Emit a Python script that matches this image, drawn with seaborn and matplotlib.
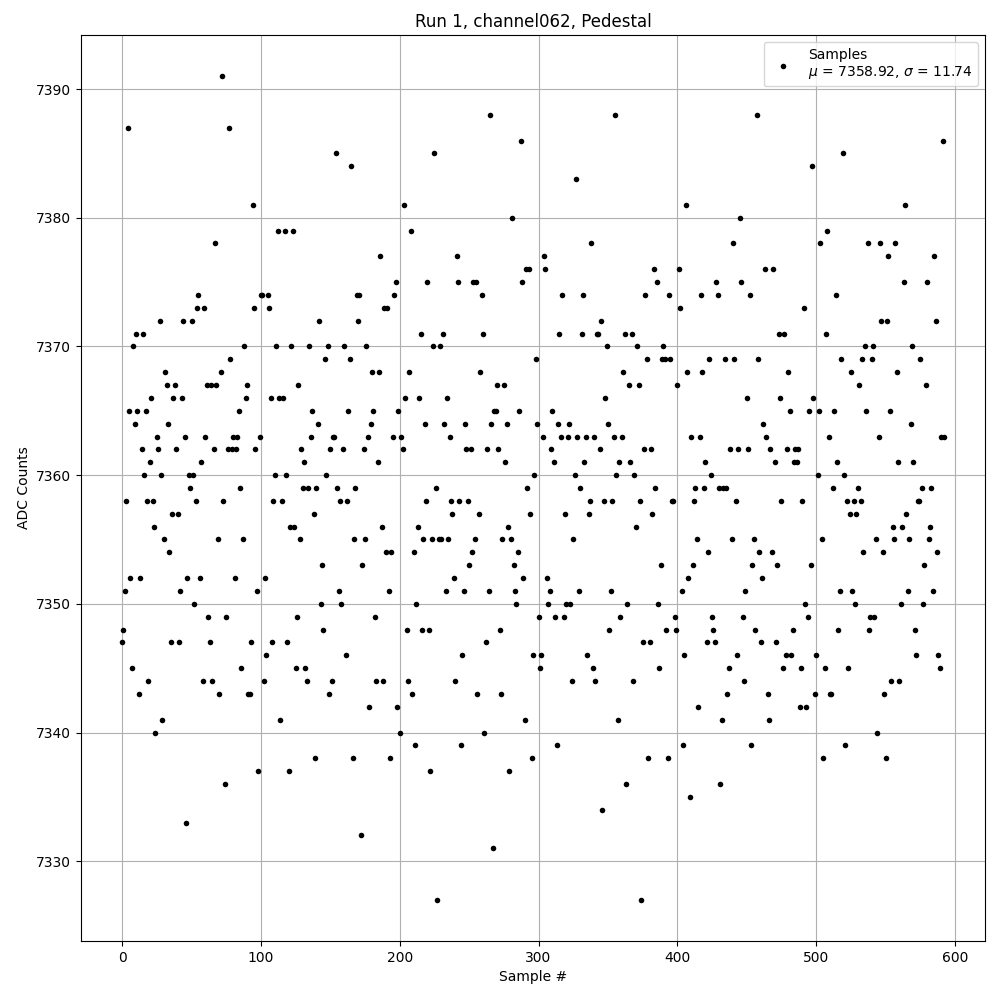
#!/usr/bin/env python3
"""Pedestal scatter for run 1, channel062."""

import numpy as np
import pandas as pd
import matplotlib
matplotlib.use("Agg")
import matplotlib.pyplot as plt
import seaborn as sns

run_id = 1
channel = "channel062"
mu = 7358.92
sigma = 11.74

# ADC counts per sample (in sample order)
adc_counts = [
    # 0-47
    7347, 7348, 7351, 7358, 7387, 7365, 7352, 7345, 7370, 7364,
    7371, 7365, 7343, 7352, 7362, 7371, 7360, 7365, 7358, 7344,
    7361, 7366, 7358, 7356, 7340, 7363, 7362, 7372, 7360, 7341,
    7355, 7368, 7367, 7364, 7354, 7347, 7357, 7366, 7367, 7362,
    7357, 7347, 7351, 7366, 7372, 7363, 7333, 7352,
    # ~48-99
    7360, 7359, 7372, 7360, 7350, 7358, 7373, 7374, 7352, 7361,
    7344, 7373, 7363, 7367, 7349, 7347, 7367, 7344, 7362, 7378,
    7367, 7355, 7343, 7368, 7391, 7358, 7336, 7349, 7362, 7387, 7369,
    7362, 7363, 7352, 7362, 7363, 7365, 7359, 7345, 7355, 7370,
    7366, 7367, 7343, 7343, 7347, 7381, 7373, 7362, 7351, 7337,
    7363,
    # ~100-151
    7374, 7374, 7344, 7352, 7346, 7374, 7373, 7366, 7347, 7358,
    7360, 7370, 7379, 7366, 7341, 7358, 7366, 7379, 7360, 7347,
    7337, 7356, 7370, 7379, 7356, 7345, 7349, 7367, 7355, 7362,
    7359, 7361, 7345, 7344, 7359, 7370, 7363, 7365, 7357, 7338,
    7359, 7364, 7372, 7350, 7353, 7348, 7369, 7360, 7370, 7343,
    7362, 7344,
    # ~152-201
    7363, 7363, 7385, 7359, 7351, 7358, 7350, 7362, 7370, 7346,
    7358, 7365, 7369, 7384, 7338, 7355, 7359, 7374, 7372, 7374,
    7332, 7353, 7362, 7355, 7370, 7363, 7342, 7364, 7368, 7365,
    7349, 7344, 7361, 7368, 7377, 7356, 7344, 7373, 7354, 7373,
    7351, 7338, 7354, 7363, 7374, 7375, 7342, 7365, 7340, 7363,
    # ~202-254
    7362, 7381, 7366, 7348, 7344, 7368, 7379, 7343, 7354, 7339,
    7350, 7356, 7366, 7371, 7348, 7355, 7364, 7358, 7375, 7348,
    7337, 7355, 7370, 7385, 7359, 7327, 7355, 7370, 7355, 7371,
    7364, 7351, 7366, 7355, 7363, 7358, 7357, 7352, 7344, 7377,
    7375, 7358, 7339, 7346, 7351, 7364, 7362, 7358, 7353, 7362,
    7354, 7375, 7355,
    # ~255-307
    7375, 7343, 7357, 7368, 7374, 7371, 7340, 7347, 7362, 7351,
    7388, 7364, 7331, 7365, 7365, 7367, 7362, 7348, 7343, 7355,
    7367, 7361, 7364, 7356, 7337, 7355, 7380, 7353, 7351, 7350,
    7354, 7365, 7386, 7375, 7352, 7341, 7376, 7359, 7376, 7357,
    7338, 7346, 7360, 7369, 7364, 7349, 7345, 7346, 7363, 7377,
    7376, 7352, 7350,
    # ~308-359
    7351, 7362, 7365, 7361, 7349, 7339, 7364, 7371, 7363, 7374,
    7349, 7357, 7350, 7363, 7364, 7350, 7344, 7355, 7360, 7383,
    7363, 7351, 7359, 7371, 7374, 7361, 7363, 7346, 7357, 7358,
    7378, 7345, 7363, 7344, 7371, 7371, 7362, 7372, 7334, 7358,
    7366, 7370, 7364, 7348, 7351, 7358, 7363, 7388, 7360, 7341,
    7361, 7349,
    # ~360-411
    7363, 7368, 7371, 7336, 7350, 7367, 7361, 7371, 7344, 7360,
    7356, 7370, 7367, 7358, 7327, 7347, 7362, 7374, 7369, 7338,
    7347, 7362, 7357, 7376, 7359, 7375, 7350, 7345, 7353, 7369,
    7370, 7369, 7348, 7338, 7374, 7369, 7358, 7358, 7349, 7348,
    7367, 7376, 7373, 7351, 7339, 7346, 7381, 7368, 7352, 7335,
    7363, 7353,
    # ~412-463
    7358, 7359, 7355, 7342, 7363, 7374, 7368, 7359, 7361, 7347,
    7354, 7369, 7360, 7349, 7348, 7347, 7375, 7374, 7359, 7336,
    7341, 7359, 7369, 7359, 7343, 7345, 7362, 7355, 7378, 7369,
    7358, 7346, 7362, 7380, 7375, 7349, 7344, 7351, 7366, 7362,
    7374, 7339, 7353, 7355, 7348, 7388, 7369, 7354, 7347, 7352,
    7364, 7376,
    # ~464-514
    7363, 7343, 7341, 7362, 7354, 7376, 7361, 7347, 7353, 7371,
    7366, 7358, 7345, 7371, 7346, 7362, 7368, 7365, 7346, 7348,
    7361, 7362, 7361, 7362, 7342, 7345, 7358, 7373, 7350, 7342,
    7349, 7365, 7353, 7384, 7366, 7343, 7346, 7360, 7365, 7378,
    7355, 7338, 7345, 7371, 7379, 7363, 7343, 7343, 7359, 7365,
    7374,
    # ~515-565
    7361, 7348, 7351, 7369, 7385, 7360, 7339, 7358, 7345, 7357,
    7368, 7351, 7358, 7350, 7357, 7359, 7367, 7358, 7369, 7354,
    7370, 7365, 7378, 7348, 7349, 7369, 7370, 7349, 7355, 7340,
    7363, 7378, 7372, 7354, 7343, 7338, 7372, 7377, 7365, 7344,
    7356, 7355, 7378, 7368, 7361, 7344, 7350, 7356, 7375, 7381,
    7357,
    # ~566-593
    7351, 7355, 7364, 7370, 7361, 7348, 7346, 7358, 7358, 7369,
    7359, 7350, 7353, 7367, 7375, 7355, 7356, 7359, 7351, 7377,
    7372, 7354, 7346, 7345, 7363, 7386, 7363,
]

df = pd.DataFrame({"sample": np.arange(len(adc_counts)), "adc": adc_counts})

fig, ax = plt.subplots(figsize=(10, 10), dpi=100)
sns.scatterplot(
    data=df, x="sample", y="adc", ax=ax,
    color="k", s=16, linewidth=0,
    label=f"Samples\n$\\mu$ = {mu:.2f}, $\\sigma$ = {sigma:.2f}",
)
ax.grid(True)
ax.set_axisbelow(True)
ax.set_title(f"Run {run_id}, {channel}, Pedestal")
ax.set_xlabel("Sample #")
ax.set_ylabel("ADC Counts")
ax.legend(loc="upper right", fontsize=10)

plt.subplots_adjust(left=0.081, right=0.985, top=0.965, bottom=0.059)
plt.savefig("out.png", dpi=100)
plt.close(fig)
